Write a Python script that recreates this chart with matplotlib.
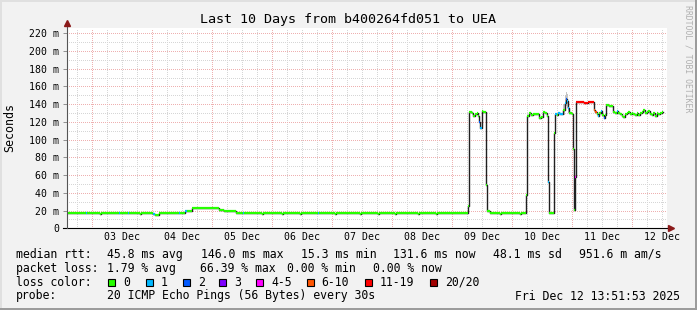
import matplotlib
matplotlib.use("Agg")
import matplotlib.pyplot as plt
from matplotlib.patches import Rectangle
from matplotlib.ticker import FuncFormatter, MultipleLocator, FixedLocator
import numpy as np

# ---------------- data ----------------
title = "Last 10 Days from b400264fd051 to UEA"
y_label = "Seconds"
t_start = 2.5777   # Dec 2 13:51:53 (day-of-December)
t_end = 12.5777    # Dec 12 13:51:53
midnights = [3, 4, 5, 6, 7, 8, 9, 10, 11, 12]
label_days = [3.5, 4.5, 5.5, 6.5, 7.5, 8.5, 9.5, 10.5, 11.5, 12.5]
day_labels = ["03 Dec", "04 Dec", "05 Dec", "06 Dec", "07 Dec",
              "08 Dec", "09 Dec", "10 Dec", "11 Dec", "12 Dec"]

# median RTT (ms) change points, with loss-colour bucket index
med_t = [2.578, 2.895, 2.911, 3.128, 3.145, 3.444, 3.461, 3.594, 3.611, 3.794,
         3.811, 4.006, 4.044, 4.111, 4.444, 4.461, 4.544, 4.578, 4.653, 4.669,
         4.878, 5.116, 5.189, 5.389, 5.511, 5.528, 5.828, 5.845, 6.161, 6.178,
         6.461, 6.478, 6.761, 6.778, 7.044, 7.061, 7.461, 7.478, 7.761, 7.778,
         8.044, 8.061, 8.428, 8.445, 8.728, 8.745, 9.269, 9.286, 9.322, 9.349,
         9.378, 9.406, 9.423, 9.444, 9.466, 9.489, 9.516, 9.561, 9.578, 9.628,
         9.794, 9.811, 10.128, 10.145, 10.228, 10.244, 10.278, 10.311, 10.349, 10.389,
         10.423, 10.444, 10.478, 10.516, 10.544, 10.573, 10.599, 10.616, 10.694, 10.711,
         10.739, 10.766, 10.794, 10.849, 10.873, 10.889, 10.906, 10.923, 10.939, 10.989,
         11.006, 11.023, 11.039, 11.056, 11.128, 11.194, 11.261, 11.311, 11.366, 11.383,
         11.406, 11.423, 11.450, 11.478, 11.499, 11.523, 11.544, 11.561, 11.603, 11.644,
         11.683, 11.711, 11.739, 11.766, 11.794, 11.823, 11.849, 11.878, 11.906, 11.933,
         11.961, 11.989, 12.016, 12.044, 12.073, 12.099, 12.128, 12.156, 12.183, 12.211,
         12.239, 12.266, 12.294, 12.323, 12.349, 12.378, 12.406, 12.433, 12.461, 12.489]
med_v = [17.6, 17.6, 17.6, 16.6, 17.6, 17.6, 17.6, 17.6, 17.6, 16.6,
         17.6, 16.0, 15.0, 17.6, 17.6, 17.6, 19.8, 19.5, 20.5, 23.3,
         23.0, 20.2, 19.8, 17.6, 17.6, 17.6, 16.6, 17.6, 16.6, 17.6,
         16.6, 17.6, 17.6, 17.6, 16.6, 17.6, 16.6, 17.6, 16.6, 17.6,
         16.6, 17.6, 16.6, 17.6, 16.6, 17.6, 25.0, 131.0, 129.5, 127.2,
         128.6, 129.6, 126.6, 120.0, 112.8, 132.0, 131.5, 48.8, 19.2, 17.6,
         16.6, 17.6, 16.6, 17.6, 37.5, 127.0, 129.6, 127.8, 129.2, 128.6,
         129.2, 124.5, 125.7, 131.4, 129.6, 127.2, 52.0, 17.6, 107.0, 129.0,
         128.0, 130.0, 128.6, 133.5, 141.0, 146.0, 143.6, 135.4, 129.7, 128.6,
         90.0, 20.5, 58.0, 142.0, 142.5, 141.8, 142.4, 142.0, 134.0, 131.0,
         128.6, 127.2, 129.7, 132.0, 128.2, 124.4, 128.0, 139.0, 138.5, 137.5,
         131.5, 130.3, 132.0, 129.7, 128.6, 127.2, 126.0, 128.6, 129.7, 130.8,
         128.6, 129.7, 128.6, 127.8, 129.7, 127.8, 130.3, 131.4, 133.0, 129.7,
         131.4, 132.0, 128.6, 127.8, 129.7, 127.2, 129.7, 128.6, 130.3, 131.6]
med_loss = [0, 1, 0, 0, 0, 1, 0, 1, 0, 0,
            0, 1, 0, 0, 1, 0, 1, 0, 1, 0,
            0, 0, 0, 0, 1, 0, 0, 0, 0, 0,
            0, 0, 1, 0, 0, 0, 0, 0, 0, 0,
            0, 0, 0, 0, 0, 0, 0, 0, 0, 0,
            0, 0, 0, 2, 1, 0, 0, 0, 0, 0,
            0, 0, 0, 0, 0, 0, 0, 0, 0, 0,
            0, 0, 0, 0, 0, 0, 1, 0, 0, 1,
            0, 1, 1, 0, 1, 2, 1, 1, 0, 0,
            0, 0, 4, 6, 6, 6, 6, 6, 5, 5,
            0, 1, 0, 1, 0, 2, 0, 0, 0, 0,
            0, 0, 1, 0, 0, 0, 0, 0, 0, 0,
            0, 0, 0, 0, 0, 0, 0, 0, 0, 0,
            0, 0, 0, 0, 0, 0, 0, 0, 0, 0]
med_end = 12.506

# smoke (spread of pings) around the spike
smoke_t = [10.849, 10.873, 10.889, 10.906, 10.923, 10.939]
smoke_lo = [128.0, 133.0, 138.0, 136.0, 130.0, 127.0]
smoke_hi = [140.0, 150.0, 154.0, 151.0, 142.0, 133.0]

loss_labels = ["0", "1", "2", "3", "4-5", "6-10", "11-19", "20/20"]
loss_colors = ["#26ff00", "#00b8ff", "#0059ff", "#7e00ff",
               "#ff00ff", "#ff5500", "#ff0000", "#a10000"]

rtt_stats = ["45.8 ms avg", "146.0 ms max", "15.3 ms min", "131.6 ms now",
             "48.1 ms sd", "951.6 m am/s"]
loss_stats = ["1.79 % avg", "66.39 % max", "0.00 % min", "0.00 % now"]
probe_text = "20 ICMP Echo Pings (56 Bytes) every 30s"
stamp_text = "Fri Dec 12 13:51:53 2025"

# ---------------- figure ----------------
W, H = 697, 310
FONT = "DejaVu Sans Mono"
plt.rcParams["font.family"] = FONT

fig = plt.figure(figsize=(W / 100, H / 100), dpi=100)
fig.patch.set_facecolor("#f2f2f2")

def fx(px):
    return px / W

def fy(py):
    return 1 - py / H

ax_left, ax_right, ax_bottom, ax_top = 67, 667, 228.3, 28.3
ax = fig.add_axes([fx(ax_left), fy(ax_bottom), (ax_right - ax_left) / W,
                   (ax_bottom - ax_top) / H])
ax.set_facecolor("white")
ax.set_xlim(t_start, t_end)
ax.set_ylim(0, 225.6)

# grids (1px dotted)
grid_kw = dict(linestyle=(0, (1, 2)), linewidth=0.72, antialiased=False)
ax.yaxis.set_major_locator(MultipleLocator(20))
ax.yaxis.set_minor_locator(MultipleLocator(10))
ax.grid(True, which="minor", axis="y", color="#d6d6d6", **grid_kw)
ax.grid(True, which="major", axis="y", color="#eeb0b0", **grid_kw)
ax.xaxis.set_major_locator(FixedLocator(midnights))
ax.xaxis.set_minor_locator(MultipleLocator(0.25))
ax.grid(True, which="minor", axis="x", color="#d6d6d6", **grid_kw)
ax.grid(True, which="major", axis="x", color="#eeb0b0", **grid_kw)
ax.set_axisbelow(True)
ax.tick_params(axis="x", which="both", length=0, labelbottom=False)
ax.tick_params(axis="y", which="major", length=3, width=0.7, color="#909090",
               labelsize=7.1, pad=2.5)
ax.tick_params(axis="y", which="minor", length=0)
ax.yaxis.set_major_formatter(FuncFormatter(lambda v, p: "0" if v == 0 else f"{v:.0f} m"))

sec = ax.secondary_xaxis("bottom")
sec.set_xticks(label_days, day_labels)
sec.tick_params(length=0, labelsize=7.1, pad=3)
sec.spines["bottom"].set_visible(False)

for s in ["top", "right", "left", "bottom"]:
    ax.spines[s].set_visible(False)

# smoke
ax.fill_between(smoke_t, smoke_lo, smoke_hi, step="post", color="#c4c4c4",
                linewidth=0, zorder=2)

# median line (dark) and loss-coloured segments
t = np.array(med_t)
v = np.array(med_v)
ends = np.append(t[1:], med_end)
ax.step(np.append(t, med_end), np.append(v, v[-1]), where="post",
        color="#202020", lw=1.0, zorder=3)
ax.hlines(v, t, ends, colors=[loss_colors[i] for i in med_loss], lw=1.6, zorder=4)

# axis lines with arrows
ax.plot([-4 / 600, 1.0 + 4 / 600], [0, 0], transform=ax.transAxes, color="black",
        lw=0.8, clip_on=False, zorder=5)
ax.plot([0, 0], [0, (ax_bottom - 24) / 200], transform=ax.transAxes, color="#555555",
        lw=0.8, clip_on=False, zorder=5)
ax.plot([1.0 + 4 / 600], [0], transform=ax.transAxes, marker=">", color="#8b1a1a",
        markersize=4.5, clip_on=False, zorder=6)
ax.plot([0], [(ax_bottom - 23) / 200], transform=ax.transAxes, marker="^",
        color="#8b1a1a", markersize=4.5, clip_on=False, zorder=6)

# texts
fig.text(fx(347.5), fy(19.3), title, ha="center", va="center", size=9.6)
fig.text(fx(10), fy(127.5), y_label, rotation=90, ha="center", va="center", size=8.4)
fig.text(fx(688), fy(5), "RRDTOOL / TOBI OETIKER", rotation=270, ha="center",
         va="top", size=5.9, color="#b0b0b0")

LS = 8.3
rows_y = [254.3, 268.3, 282.3, 296.0]
fig.text(fx(16), fy(rows_y[0]), "median rtt:", va="center", size=LS)
for x, s in zip([107.3, 200.7, 300.7, 393.3, 493.3, 579.3], rtt_stats):
    fig.text(fx(x), fy(rows_y[0]), s, va="center", size=LS)
fig.text(fx(16), fy(rows_y[1]), "packet loss:", va="center", size=LS)
for x, s in zip([107.3, 200.0, 286.7, 373.3], loss_stats):
    fig.text(fx(x), fy(rows_y[1]), s, va="center", size=LS)
fig.text(fx(16), fy(rows_y[2]), "loss color:", va="center", size=LS)
box_x = [108.3, 145.7, 182.7, 219.3, 256.0, 306.7, 365.0, 430.0]
for bx, c, s in zip(box_x, loss_colors, loss_labels):
    fig.add_artist(Rectangle((fx(bx), fy(rows_y[2] + 3.5)), 7 / W, 7 / H,
                             transform=fig.transFigure, facecolor=c,
                             edgecolor="black", lw=0.8))
    fig.text(fx(bx + 15), fy(rows_y[2]), s, va="center", size=LS)
fig.text(fx(16), fy(rows_y[3]), "probe:", va="center", size=LS)
fig.text(fx(107.3), fy(rows_y[3]), probe_text, va="center", size=LS)
fig.text(fx(680), fy(rows_y[3]), stamp_text, va="center", ha="right", size=LS)

# 3D-ish frame
fig.add_artist(Rectangle((0, 0), 1, 2 / H, transform=fig.transFigure,
                         facecolor="#9c9c9c", lw=0))
fig.add_artist(Rectangle((1 - 2 / W, 0), 2 / W, 1, transform=fig.transFigure,
                         facecolor="#9c9c9c", lw=0))
fig.add_artist(Rectangle((0, 1 - 2 / H), 1 - 2 / W, 2 / H, transform=fig.transFigure,
                         facecolor="#e0e0e0", lw=0))
fig.add_artist(Rectangle((0, 2 / H), 2 / W, 1 - 2 / H, transform=fig.transFigure,
                         facecolor="#e0e0e0", lw=0))

fig.savefig("out.png", dpi=100, facecolor=fig.get_facecolor())
